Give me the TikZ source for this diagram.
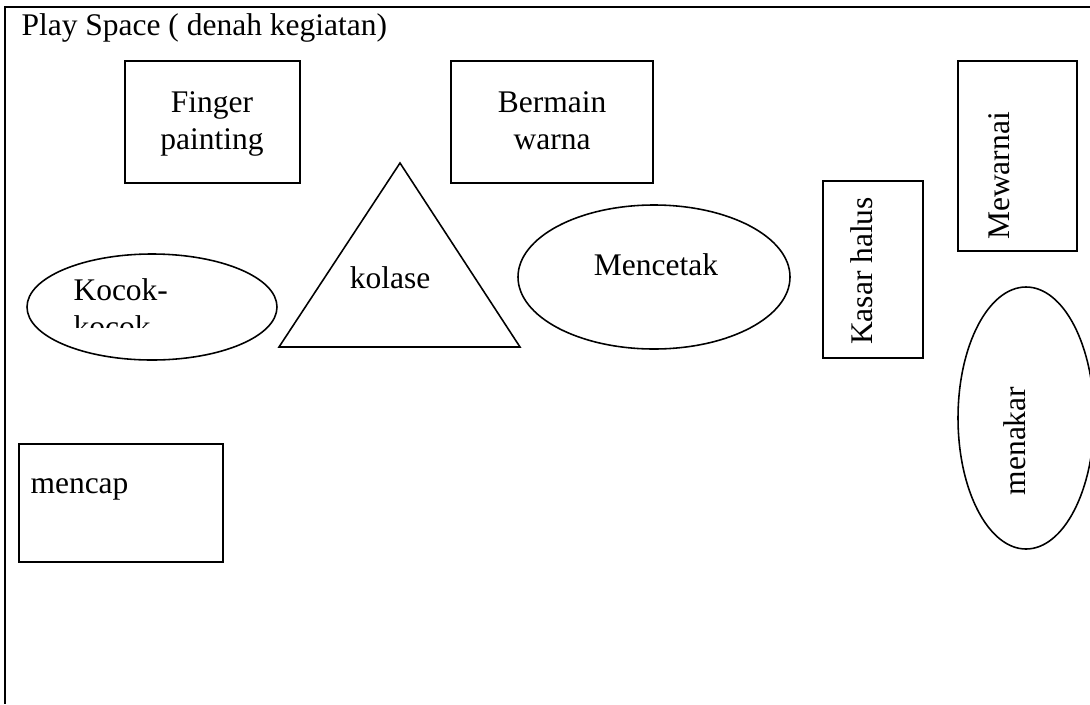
\documentclass[tikz,border=0pt]{standalone}
\usepackage{fontspec}
\setmainfont{Liberation Serif}
\usetikzlibrary{calc}

\tikzset{
	denah/.style={line width=0.6pt},
	teks/.style={inner sep=0pt, font=\fontsize{12}{14}\selectfont},
	tegak/.style={teks, rotate=90},
}

\begin{document}
\begin{tikzpicture}[x=0.381pt, y=-0.381pt]
	
	\useasboundingbox (0,0) rectangle (1090,704);
	
	\coordinate (bingkaiL) at (5,704);
	\coordinate (bingkaiC) at (5,7);
	\coordinate (bingkaiR) at (1090,7);
	
	\draw[line width=0.9pt] (bingkaiR)--(bingkaiC)--(bingkaiL);
	\node[teks, anchor=base west] (judul) at (21,35) {Play Space ( denah kegiatan)};
	
	% kotak
	\draw[denah] (125,61) rectangle (300,183);
	\node[teks, align=center, anchor=base] (finger) at (212,149) {Finger\\painting};
	
	\draw[denah] (451,61) rectangle (653,183);
	\node[teks, align=center, anchor=base] (bermain) at (552,149) {Bermain\\warna};
	
	\draw[denah] (958,61) rectangle (1077,251);
	\node[tegak] (mewarnai) at (999,176) {Mewarnai};
	
	\draw[denah] (823,181) rectangle (923,358);
	\node[tegak] (kasar) at (862,271) {Kasar halus};
	
	\draw[denah] (19,444) rectangle (223,562);
	\node[teks, anchor=base west] (mencap) at (30,493) {mencap};
	
	% segitiga dan elips
	\coordinate (puncak) at (400,163);
	\coordinate (alasL) at (279,347);
	\coordinate (alasR) at (520,347);
	\draw[denah] (puncak)--(alasR)--(alasL)--cycle;
	\node[teks, anchor=base] (kolase) at (390,288) {kolase};
	
	\draw[denah] (152,307) ellipse [x radius=125, y radius=53];
	\begin{scope}
		\clip (40,262) rectangle (265,327);
		\node[teks, align=left, anchor=base west] (kocok) at (73,337) {Kocok-\\kocok};
	\end{scope}
	
	\draw[denah] (654,277) ellipse [x radius=136, y radius=72];
	\node[teks, anchor=base] (mencetak) at (656,275) {Mencetak};
	
	\draw[denah] (1026,418) ellipse [x radius=68, y radius=131];
	\node[tegak] (menakar) at (1015,441) {menakar};
	
\end{tikzpicture}
\end{document}
